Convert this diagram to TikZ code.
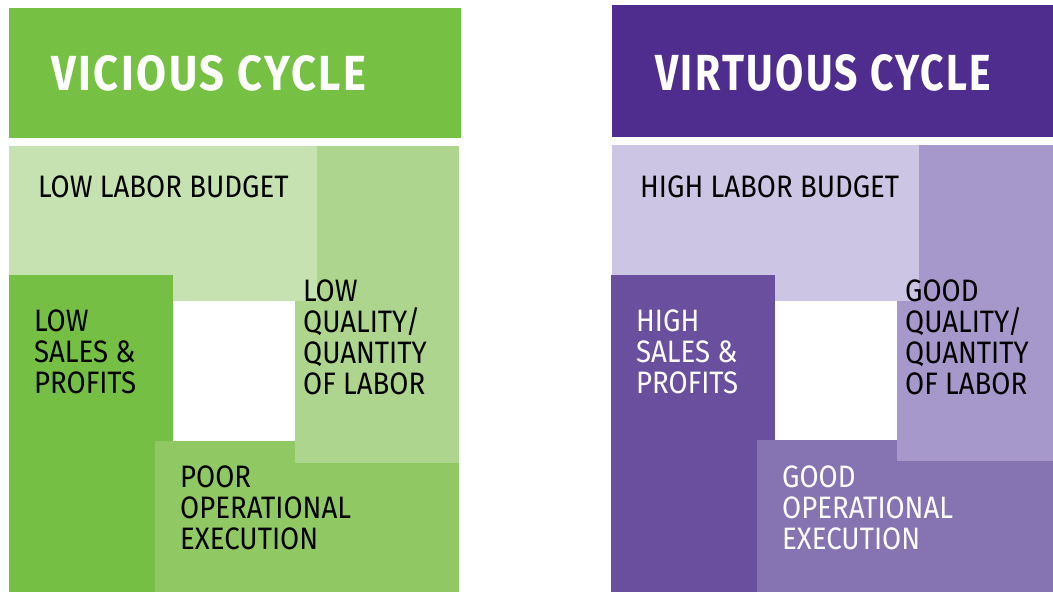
\documentclass[tikz,border=0pt]{standalone}
\usepackage{graphicx}
\usepackage{fontspec}
\setmainfont{Fira Sans}[FakeStretch=0.89]
\newfontfamily\headfont{Fira Sans}[LetterSpace=6]
\definecolor{gHead}{HTML}{76C043}
\definecolor{gTop}{HTML}{C6E2B1}
\definecolor{gRight}{HTML}{ADD58D}
\definecolor{gLeft}{HTML}{75BF44}
\definecolor{gBot}{HTML}{90C864}
\definecolor{pHead}{HTML}{4F2D8F}
\definecolor{pTop}{HTML}{CCC6E4}
\definecolor{pRight}{HTML}{A698CB}
\definecolor{pLeft}{HTML}{6A4F9E}
\definecolor{pBot}{HTML}{8673B2}
\tikzset{
  lbl/.style={anchor=base west, inner sep=0pt, align=left, font=\fontsize{31}{31}\selectfont},
  hdr/.style={anchor=base west, inner sep=0pt, text=white, font=\headfont\bfseries\fontsize{48}{48}\selectfont}
}
\begin{document}
\begin{tikzpicture}[x=1pt,y=-1pt]
\useasboundingbox (0,0) rectangle (1053,592);
% ---- left panel
\fill[gHead] (9,8) rectangle (461,138);
\fill[gRight] (295,146) rectangle (459,463);
\fill[gTop] (9,146) rectangle (317,301);
\fill[gLeft] (9,275) rectangle (173,592);
\fill[gBot] (155,441) rectangle (459,592);
\fill[gRight] (295,441) rectangle (459,463);
\node[hdr] (vh) at (51,90) {\resizebox{315pt}{35pt}{VICIOUS CYCLE}};
\node[lbl] (lb) at (38,197) {LOW LABOR BUDGET};
\node[lbl] (ls) at (34,393) {LOW\\SALES \&\\PROFITS};
\node[lbl] (lq) at (303,394) {LOW\\QUALITY/\\QUANTITY\\OF LABOR};
\node[lbl] (lp) at (180,549) {POOR\\OPERATIONAL\\EXECUTION};
% ---- right panel
\fill[pHead] (612,5) rectangle (1053,137);
\fill[pRight] (897,145) rectangle (1053,461);
\fill[pTop] (612,145) rectangle (919,301);
\fill[pLeft] (611,275) rectangle (775,592);
\fill[pBot] (757,440) rectangle (1053,592);
\fill[pRight] (897,440) rectangle (1053,461);
\node[hdr] (uh) at (655,90) {\resizebox{336pt}{36pt}{VIRTUOUS CYCLE}};
\node[lbl] (hb) at (640,197) {HIGH LABOR BUDGET};
\node[lbl,text=white] (hs) at (636,393) {HIGH\\SALES \&\\PROFITS};
\node[lbl] (hq) at (905,394) {GOOD\\QUALITY/\\QUANTITY\\OF LABOR};
\node[lbl,text=white] (hp) at (782,549) {GOOD\\OPERATIONAL\\EXECUTION};
\end{tikzpicture}
\end{document}
